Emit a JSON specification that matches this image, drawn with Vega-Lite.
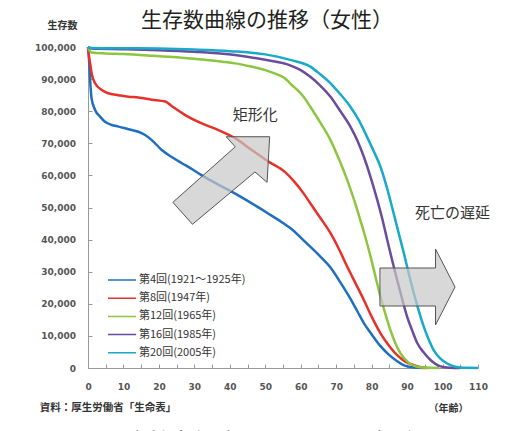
{
  "$schema": "https://vega.github.io/schema/vega-lite/v6.json",
  "autosize": "none",
  "width": 390,
  "height": 321,
  "padding": {"left": 88, "top": 47, "right": 38, "bottom": 63},
  "background": "white",
  "title": {"text": "生存数曲線の推移（女性）", "font": "Noto Sans CJK JP", "fontSize": 21, "fontWeight": "normal", "color": "#231f20", "anchor": "middle", "dx": -16, "dy": 11, "offset": 0},
  "config": {"view": {"stroke": null}, "font": "Noto Sans CJK JP"},
  "datasets": {
    "curves": [
      {"s": "第4回(1921～1925年)", "age": 0, "n": 100000},
      {"s": "第4回(1921～1925年)", "age": 0.3, "n": 95900},
      {"s": "第4回(1921～1925年)", "age": 0.6, "n": 89700},
      {"s": "第4回(1921～1925年)", "age": 1, "n": 84000},
      {"s": "第4回(1921～1925年)", "age": 2, "n": 80400},
      {"s": "第4回(1921～1925年)", "age": 3.4, "n": 78300},
      {"s": "第4回(1921～1925年)", "age": 4.8, "n": 76700},
      {"s": "第4回(1921～1925年)", "age": 6.7, "n": 75700},
      {"s": "第4回(1921～1925年)", "age": 8.6, "n": 75200},
      {"s": "第4回(1921～1925年)", "age": 11.4, "n": 74400},
      {"s": "第4回(1921～1925年)", "age": 14.2, "n": 73600},
      {"s": "第4回(1921～1925年)", "age": 16.1, "n": 72600},
      {"s": "第4回(1921～1925年)", "age": 18, "n": 71000},
      {"s": "第4回(1921～1925年)", "age": 20.8, "n": 67900},
      {"s": "第4回(1921～1925年)", "age": 23.5, "n": 65800},
      {"s": "第4回(1921～1925年)", "age": 26.5, "n": 63800},
      {"s": "第4回(1921～1925年)", "age": 29, "n": 62200},
      {"s": "第4回(1921～1925年)", "age": 32, "n": 60100},
      {"s": "第4回(1921～1925年)", "age": 36, "n": 57600},
      {"s": "第4回(1921～1925年)", "age": 39.6, "n": 55500},
      {"s": "第4回(1921～1925年)", "age": 43, "n": 53400},
      {"s": "第4回(1921～1925年)", "age": 46.2, "n": 51300},
      {"s": "第4回(1921～1925年)", "age": 49, "n": 49400},
      {"s": "第4回(1921～1925年)", "age": 52, "n": 47300},
      {"s": "第4回(1921～1925年)", "age": 55, "n": 45200},
      {"s": "第4回(1921～1925年)", "age": 57.5, "n": 43200},
      {"s": "第4回(1921～1925年)", "age": 60, "n": 40600},
      {"s": "第4回(1921～1925年)", "age": 62, "n": 38500},
      {"s": "第4回(1921～1925年)", "age": 65, "n": 35300},
      {"s": "第4回(1921～1925年)", "age": 68.4, "n": 31300},
      {"s": "第4回(1921～1925年)", "age": 71, "n": 27000},
      {"s": "第4回(1921～1925年)", "age": 74, "n": 21600},
      {"s": "第4回(1921～1925年)", "age": 76, "n": 17600},
      {"s": "第4回(1921～1925年)", "age": 77.8, "n": 14000},
      {"s": "第4回(1921～1925年)", "age": 80, "n": 10500},
      {"s": "第4回(1921～1925年)", "age": 82.5, "n": 6800},
      {"s": "第4回(1921～1925年)", "age": 85, "n": 4000},
      {"s": "第4回(1921～1925年)", "age": 87.2, "n": 2100},
      {"s": "第4回(1921～1925年)", "age": 89, "n": 900},
      {"s": "第4回(1921～1925年)", "age": 91, "n": 300},
      {"s": "第4回(1921～1925年)", "age": 93, "n": 50},
      {"s": "第4回(1921～1925年)", "age": 95, "n": 0},

      {"s": "第8回(1947年)", "age": 0, "n": 100000},
      {"s": "第8回(1947年)", "age": 0.3, "n": 97000},
      {"s": "第8回(1947年)", "age": 0.6, "n": 94900},
      {"s": "第8回(1947年)", "age": 1, "n": 91900},
      {"s": "第8回(1947年)", "age": 2, "n": 88700},
      {"s": "第8回(1947年)", "age": 3.9, "n": 86600},
      {"s": "第8回(1947年)", "age": 5.7, "n": 85600},
      {"s": "第8回(1947年)", "age": 8.6, "n": 85000},
      {"s": "第8回(1947年)", "age": 11.4, "n": 84500},
      {"s": "第8回(1947年)", "age": 14.2, "n": 84300},
      {"s": "第8回(1947年)", "age": 18, "n": 83600},
      {"s": "第8回(1947年)", "age": 21.8, "n": 83000},
      {"s": "第8回(1947年)", "age": 23.6, "n": 81600},
      {"s": "第8回(1947年)", "age": 27.4, "n": 78800},
      {"s": "第8回(1947年)", "age": 32.1, "n": 76200},
      {"s": "第8回(1947年)", "age": 36.8, "n": 74100},
      {"s": "第8回(1947年)", "age": 41.5, "n": 71600},
      {"s": "第8回(1947年)", "age": 46.2, "n": 67900},
      {"s": "第8回(1947年)", "age": 50.9, "n": 64300},
      {"s": "第8回(1947年)", "age": 55.6, "n": 61000},
      {"s": "第8回(1947年)", "age": 58, "n": 58300},
      {"s": "第8回(1947年)", "age": 60.8, "n": 54400},
      {"s": "第8回(1947年)", "age": 62.7, "n": 51300},
      {"s": "第8回(1947年)", "age": 65.5, "n": 46800},
      {"s": "第8回(1947年)", "age": 68.4, "n": 42000},
      {"s": "第8回(1947年)", "age": 70.8, "n": 37000},
      {"s": "第8回(1947年)", "age": 73.1, "n": 31600},
      {"s": "第8回(1947年)", "age": 75.5, "n": 26300},
      {"s": "第8回(1947年)", "age": 77.8, "n": 21200},
      {"s": "第8回(1947年)", "age": 80, "n": 16000},
      {"s": "第8回(1947年)", "age": 82.5, "n": 10800},
      {"s": "第8回(1947年)", "age": 85, "n": 6800},
      {"s": "第8回(1947年)", "age": 87.2, "n": 4000},
      {"s": "第8回(1947年)", "age": 89.5, "n": 2000},
      {"s": "第8回(1947年)", "age": 91.9, "n": 900},
      {"s": "第8回(1947年)", "age": 94, "n": 250},
      {"s": "第8回(1947年)", "age": 96, "n": 0},

      {"s": "第12回(1965年)", "age": 0, "n": 100000},
      {"s": "第12回(1965年)", "age": 0.5, "n": 98800},
      {"s": "第12回(1965年)", "age": 1, "n": 98300},
      {"s": "第12回(1965年)", "age": 5, "n": 98000},
      {"s": "第12回(1965年)", "age": 10, "n": 97800},
      {"s": "第12回(1965年)", "age": 18, "n": 97300},
      {"s": "第12回(1965年)", "age": 25, "n": 96800},
      {"s": "第12回(1965年)", "age": 32, "n": 96100},
      {"s": "第12回(1965年)", "age": 38, "n": 95400},
      {"s": "第12回(1965年)", "age": 41.5, "n": 94900},
      {"s": "第12回(1965年)", "age": 46, "n": 93900},
      {"s": "第12回(1965年)", "age": 50, "n": 92800},
      {"s": "第12回(1965年)", "age": 53, "n": 91600},
      {"s": "第12回(1965年)", "age": 55.6, "n": 90200},
      {"s": "第12回(1965年)", "age": 57, "n": 88700},
      {"s": "第12回(1965年)", "age": 60.8, "n": 84500},
      {"s": "第12回(1965年)", "age": 62.7, "n": 81400},
      {"s": "第12回(1965年)", "age": 65.5, "n": 76500},
      {"s": "第12回(1965年)", "age": 68.4, "n": 71000},
      {"s": "第12回(1965年)", "age": 70.8, "n": 65000},
      {"s": "第12回(1965年)", "age": 73.1, "n": 58600},
      {"s": "第12回(1965年)", "age": 75, "n": 52500},
      {"s": "第12回(1965年)", "age": 76.8, "n": 46100},
      {"s": "第12回(1965年)", "age": 78.3, "n": 40500},
      {"s": "第12回(1965年)", "age": 79.7, "n": 34700},
      {"s": "第12回(1965年)", "age": 81.1, "n": 28400},
      {"s": "第12回(1965年)", "age": 82.5, "n": 22200},
      {"s": "第12回(1965年)", "age": 83.9, "n": 16700},
      {"s": "第12回(1965年)", "age": 85.3, "n": 11800},
      {"s": "第12回(1965年)", "age": 86.7, "n": 7700},
      {"s": "第12回(1965年)", "age": 88.1, "n": 4600},
      {"s": "第12回(1965年)", "age": 90.5, "n": 1600},
      {"s": "第12回(1965年)", "age": 92.8, "n": 400},
      {"s": "第12回(1965年)", "age": 96, "n": 50},
      {"s": "第12回(1965年)", "age": 99, "n": 0},

      {"s": "第16回(1985年)", "age": 0, "n": 100000},
      {"s": "第16回(1985年)", "age": 1, "n": 99500},
      {"s": "第16回(1985年)", "age": 10, "n": 99300},
      {"s": "第16回(1985年)", "age": 20, "n": 99000},
      {"s": "第16回(1985年)", "age": 30, "n": 98500},
      {"s": "第16回(1985年)", "age": 41.5, "n": 97500},
      {"s": "第16回(1985年)", "age": 50, "n": 96000},
      {"s": "第16回(1985年)", "age": 57, "n": 94300},
      {"s": "第16回(1985年)", "age": 60, "n": 92800},
      {"s": "第16回(1985年)", "age": 62.7, "n": 90700},
      {"s": "第16回(1985年)", "age": 65.5, "n": 88000},
      {"s": "第16回(1985年)", "age": 68.4, "n": 84500},
      {"s": "第16回(1985年)", "age": 71, "n": 80300},
      {"s": "第16回(1985年)", "age": 74, "n": 75200},
      {"s": "第16回(1985年)", "age": 76, "n": 70800},
      {"s": "第16回(1985年)", "age": 77.8, "n": 65800},
      {"s": "第16回(1985年)", "age": 79.7, "n": 59500},
      {"s": "第16回(1985年)", "age": 81.6, "n": 52300},
      {"s": "第16回(1985年)", "age": 83, "n": 46500},
      {"s": "第16回(1985年)", "age": 84.4, "n": 39900},
      {"s": "第16回(1985年)", "age": 85.8, "n": 33500},
      {"s": "第16回(1985年)", "age": 87.2, "n": 27400},
      {"s": "第16回(1985年)", "age": 88.6, "n": 21500},
      {"s": "第16回(1985年)", "age": 90, "n": 16000},
      {"s": "第16回(1985年)", "age": 91.5, "n": 11500},
      {"s": "第16回(1985年)", "age": 92.9, "n": 7700},
      {"s": "第16回(1985年)", "age": 94.7, "n": 4800},
      {"s": "第16回(1985年)", "age": 96.6, "n": 2500},
      {"s": "第16回(1985年)", "age": 99.4, "n": 500},
      {"s": "第16回(1985年)", "age": 102, "n": 80},
      {"s": "第16回(1985年)", "age": 105, "n": 0},

      {"s": "第20回(2005年)", "age": 0, "n": 100000},
      {"s": "第20回(2005年)", "age": 1, "n": 99700},
      {"s": "第20回(2005年)", "age": 10, "n": 99600},
      {"s": "第20回(2005年)", "age": 20, "n": 99500},
      {"s": "第20回(2005年)", "age": 30, "n": 99200},
      {"s": "第20回(2005年)", "age": 40, "n": 98700},
      {"s": "第20回(2005年)", "age": 50, "n": 97700},
      {"s": "第20回(2005年)", "age": 57, "n": 96000},
      {"s": "第20回(2005年)", "age": 62.7, "n": 93900},
      {"s": "第20回(2005年)", "age": 65.5, "n": 91500},
      {"s": "第20回(2005年)", "age": 68.4, "n": 88700},
      {"s": "第20回(2005年)", "age": 71, "n": 85500},
      {"s": "第20回(2005年)", "age": 74, "n": 81400},
      {"s": "第20回(2005年)", "age": 76.5, "n": 77000},
      {"s": "第20回(2005年)", "age": 78.7, "n": 72000},
      {"s": "第20回(2005年)", "age": 80.6, "n": 67500},
      {"s": "第20回(2005年)", "age": 82.5, "n": 62700},
      {"s": "第20回(2005年)", "age": 84.4, "n": 55800},
      {"s": "第20回(2005年)", "age": 86.2, "n": 48200},
      {"s": "第20回(2005年)", "age": 87.7, "n": 41700},
      {"s": "第20回(2005年)", "age": 89.1, "n": 35700},
      {"s": "第20回(2005年)", "age": 90.5, "n": 29300},
      {"s": "第20回(2005年)", "age": 91.9, "n": 23300},
      {"s": "第20回(2005年)", "age": 93.3, "n": 17800},
      {"s": "第20回(2005年)", "age": 94.7, "n": 12900},
      {"s": "第20回(2005年)", "age": 96.1, "n": 8900},
      {"s": "第20回(2005年)", "age": 97.5, "n": 5600},
      {"s": "第20回(2005年)", "age": 99.4, "n": 2900},
      {"s": "第20回(2005年)", "age": 101.3, "n": 1400},
      {"s": "第20回(2005年)", "age": 103, "n": 600},
      {"s": "第20回(2005年)", "age": 105, "n": 150},
      {"s": "第20回(2005年)", "age": 107, "n": 40},
      {"s": "第20回(2005年)", "age": 110, "n": 0}
    ],
    "arrows": [
      {"arrow": "a", "ord": 1, "age": 23.93, "n": 51620},
      {"arrow": "a", "ord": 2, "age": 41.53, "n": 68910},
      {"arrow": "a", "ord": 3, "age": 38.98, "n": 72050},
      {"arrow": "a", "ord": 4, "age": 51.24, "n": 72050},
      {"arrow": "a", "ord": 5, "age": 50.51, "n": 57850},
      {"arrow": "a", "ord": 6, "age": 47.09, "n": 61060},
      {"arrow": "a", "ord": 7, "age": 29.46, "n": 44770},
      {"arrow": "a", "ord": 8, "age": 23.93, "n": 51620},
      {"arrow": "b", "ord": 1, "age": 82.34, "n": 31150},
      {"arrow": "b", "ord": 2, "age": 98.02, "n": 31150},
      {"arrow": "b", "ord": 3, "age": 98.02, "n": 37070},
      {"arrow": "b", "ord": 4, "age": 103.53, "n": 25230},
      {"arrow": "b", "ord": 5, "age": 98.02, "n": 13400},
      {"arrow": "b", "ord": 6, "age": 98.02, "n": 19310},
      {"arrow": "b", "ord": 7, "age": 82.34, "n": 19310},
      {"arrow": "b", "ord": 8, "age": 82.34, "n": 31150}
    ]
  },
  "layer": [
    {
      "data": {"name": "curves"},
      "mark": {"type": "line", "strokeWidth": 2.5, "interpolate": "monotone"},
      "encoding": {
        "x": {"field": "age", "type": "quantitative", "scale": {"domain": [0, 110], "nice": false, "zero": false},
          "axis": {"values": [0,5,10,15,20,25,30,35,40,45,50,55,60,65,70,75,80,85,90,95,100,105,110], "tickCount": 40,
            "labelExpr": "datum.value % 10 === 0 ? datum.label : ''",
            "title": "（年齢）", "titleX": 360, "titleY": 40, "titleAlign": "center", "titleBaseline": "middle",
            "titleFont": "Noto Sans CJK JP", "titleFontSize": 10, "titleFontWeight": "bold", "titleColor": "#333333",
            "labelFont": "DejaVu Sans", "labelFontSize": 9, "labelFontWeight": "bold", "labelColor": "#555555",
            "labelPadding": 18, "tickSize": -4, "tickColor": "#999999", "domainColor": "#999999", "grid": false,
            "labelFlush": false, "labelOverlap": false, "labelSeparation": 0}},
        "y": {"field": "n", "type": "quantitative", "scale": {"domain": [0, 100000], "nice": false},
          "axis": {"values": [0,10000,20000,30000,40000,50000,60000,70000,80000,90000,100000], "tickCount": 20, "format": ",d",
            "title": "生存数", "titleX": -26, "titleY": -22, "titleAngle": 0, "titleAlign": "center", "titleBaseline": "middle",
            "titleFont": "Noto Sans CJK JP", "titleFontSize": 10, "titleFontWeight": "bold", "titleColor": "#333333",
            "labelFont": "DejaVu Sans", "labelFontSize": 9, "labelFontWeight": "bold", "labelColor": "#555555",
            "labelPadding": 16.5, "tickSize": -4, "tickColor": "#999999", "domainColor": "#999999", "grid": false,
            "labelFlush": false, "labelOverlap": false, "labelSeparation": 0}},
        "color": {"field": "s", "type": "nominal",
          "scale": {"domain": ["第4回(1921～1925年)", "第8回(1947年)", "第12回(1965年)", "第16回(1985年)", "第20回(2005年)"],
            "range": ["#1e6fc0", "#e8302a", "#8cc63e", "#6a4c9c", "#19a9c9"]},
          "legend": {"orient": "none", "legendX": 19, "legendY": 225, "title": null, "symbolType": "stroke", "symbolSize": 784,
            "symbolStrokeWidth": 1.5, "clipHeight": 16, "rowPadding": 2.2, "labelFont": "Noto Sans CJK JP", "labelFontSize": 11,
            "labelColor": "#333333", "labelOffset": 2, "padding": 0, "labelLimit": 200}}
      }
    },
    {
      "data": {"name": "arrows"},
      "mark": {"type": "line", "fill": "#c8c8c8", "fillOpacity": 0.7, "stroke": "#555555", "strokeWidth": 1, "interpolate": "linear"},
      "encoding": {
        "x": {"field": "age", "type": "quantitative"},
        "y": {"field": "n", "type": "quantitative"},
        "detail": {"field": "arrow"},
        "order": {"field": "ord", "type": "quantitative"}
      }
    },
    {
      "data": {"values": [{"label": "矩形化", "age": 47.2, "n": 78800}, {"label": "死亡の遅延", "age": 102.8, "n": 48300}]},
      "mark": {"type": "text", "font": "Noto Sans CJK JP", "fontSize": 15, "color": "#333333", "align": "center", "baseline": "middle"},
      "encoding": {"x": {"field": "age", "type": "quantitative"}, "y": {"field": "n", "type": "quantitative"}, "text": {"field": "label"}}
    },
    {
      "data": {"values": [{"label": "資料：厚生労働省「生命表」", "age": -13.6, "n": -12500}]},
      "mark": {"type": "text", "font": "Noto Sans CJK JP", "fontSize": 10.5, "fontWeight": "bold", "color": "#333333", "align": "left", "baseline": "middle"},
      "encoding": {"x": {"field": "age", "type": "quantitative"}, "y": {"field": "n", "type": "quantitative"}, "text": {"field": "label"}}
    },
    {
      "data": {"values": [{"label": "国立社会保障・人口問題研究所", "age": 48, "n": -19900}]},
      "mark": {"type": "text", "font": "Noto Sans CJK JP", "fontSize": 22, "color": "#231f20", "align": "center", "baseline": "top"},
      "encoding": {"x": {"field": "age", "type": "quantitative"}, "y": {"field": "n", "type": "quantitative"}, "text": {"field": "label"}}
    }
  ]
}
